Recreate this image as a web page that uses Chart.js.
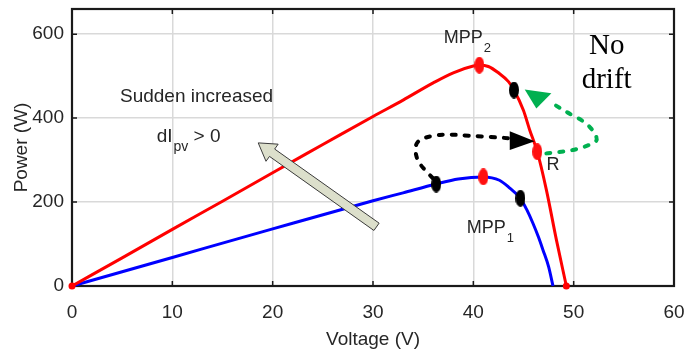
<!DOCTYPE html>
<html>
<head>
<meta charset="utf-8">
<script src="https://cdn.jsdelivr.net/npm/chart.js@4.4.1/dist/chart.umd.min.js"></script>
<style>
  html, body { margin: 0; padding: 0; background: #fff; }
  #wrap { width: 685px; height: 357px; }
</style>
</head>
<body>
<div id="wrap"><canvas id="pvChart"></canvas></div>
<script>
// axis ticks
const xTicks = [0, 10, 20, 30, 40, 50, 60];
const yTicks = [0, 200, 400, 600];

// P-V curve after the irradiance step (red)
const voltageHigh = [0, 5, 10, 15, 20, 25, 30, 33, 36, 38, 40, 40.6, 41.5, 42.5, 43.5, 44.05, 45, 45.6, 46.37, 47.28, 48.28, 49.27];
const powerHigh   = [0, 67, 135, 202, 270, 337, 404, 443, 484, 508, 524, 526, 523, 508, 487, 467, 418, 373, 320, 229, 110, 0];

// P-V curve before the step (blue)
const voltageLow = [0, 10, 20, 30, 33, 36.3, 38.5, 41, 42.6, 43.6, 44.69, 45.3, 45.95, 46.5, 46.94, 47.5, 47.94];
const powerLow   = [0, 68, 136, 203, 222, 243, 255, 260, 252, 234, 209, 183, 149, 116, 86, 46, 0];

// operating points
const mppVoltage = [40.6, 41, 46.37];
const mppPower   = [526, 260, 320];
const stepVoltage = [44.05, 36.3, 44.69];
const stepPower   = [467, 243, 209];
const endVoltage = [0, 49.27];
const endPower   = [0, 0];

// dashed path of the conventional P&O move (black) and the proposed one (green)
const driftPathV = [35.96, 34.46, 34.46, 36.65, 39.64, 43.63];
const driftPathP = [257, 300, 343, 360, 358, 352];
const driftHeadV = [46.12, 43.63, 43.63];
const driftHeadP = [345, 369, 324];
const backPathV = [47.28, 49.9, 51.89, 52.26, 51.26, 49.27, 47.61];
const backPathP = [316, 324, 340, 355, 387, 415, 439];
const backHeadV = [45.12, 46.28, 47.78];
const backHeadP = [468, 423, 459];

// block arrow: tail -> tip
const stepArrowV = [30.35, 18.56];
const stepArrowP = [141, 341];

const toXY = (xs, ys) => xs.map((x, i) => ({ x: x, y: ys[i] }));

const SANS = "'Liberation Sans', Arial, sans-serif";
const SERIF = "'Liberation Serif', 'Times New Roman', serif";
const TEXT = '#262626';

function ellipseMarker(color, w, h) {
    const c = document.createElement('canvas');
    c.width = w; c.height = h;
    const g = c.getContext('2d');
    g.fillStyle = color;
    g.beginPath();
    g.ellipse(w / 2, h / 2, w / 2, h / 2, 0, 0, Math.PI * 2);
    g.fill();
    return c;
}

// smooth curve through pixel points (catmull-rom)
function smoothPath(ctx, pts) {
    ctx.beginPath();
    ctx.moveTo(pts[0].x, pts[0].y);
    for (let i = 0; i < pts.length - 1; i++) {
        const p0 = pts[i - 1] || pts[i];
        const p1 = pts[i];
        const p2 = pts[i + 1];
        const p3 = pts[i + 2] || p2;
        ctx.bezierCurveTo(
            p1.x + (p2.x - p0.x) / 6, p1.y + (p2.y - p0.y) / 6,
            p2.x - (p3.x - p1.x) / 6, p2.y - (p3.y - p1.y) / 6,
            p2.x, p2.y);
    }
}

function textWithSub(ctx, x, y, main, sub, size, after) {
    ctx.font = size + 'px ' + SANS;
    ctx.fillText(main, x, y);
    let w = ctx.measureText(main).width;
    ctx.font = Math.round(size * 0.72) + 'px ' + SANS;
    ctx.fillText(sub, x + w + 1, y + 9);
    w += ctx.measureText(sub).width + 1;
    if (after) {
        ctx.font = size + 'px ' + SANS;
        ctx.fillText(after, x + w, y);
    }
}

const frameAndNotes = {
    id: 'frameAndNotes',
    beforeDatasetsDraw(chart) {
        const { ctx, chartArea: a, scales: { x, y } } = chart;
        ctx.save();
        ctx.strokeStyle = '#1a1a1a';
        ctx.lineWidth = 1.5;
        ctx.beginPath();
        xTicks.slice(1, -1).forEach(v => {
            const px = x.getPixelForValue(v);
            ctx.moveTo(px, a.bottom); ctx.lineTo(px, a.bottom - 5);
            ctx.moveTo(px, a.top); ctx.lineTo(px, a.top + 5);
        });
        yTicks.slice(1).forEach(v => {
            const py = y.getPixelForValue(v);
            ctx.moveTo(a.left, py); ctx.lineTo(a.left + 5, py);
            ctx.moveTo(a.right, py); ctx.lineTo(a.right - 5, py);
        });
        ctx.stroke();
        ctx.lineWidth = 2.2;
        ctx.strokeRect(a.left, a.top, a.right - a.left, a.bottom - a.top);
        ctx.restore();
    },
    afterDatasetsDraw(chart) {
        const { ctx, scales: { x, y } } = chart;
        const px = (xs, ys) => xs.map((v, i) => ({ x: x.getPixelForValue(v), y: y.getPixelForValue(ys[i]) }));
        ctx.save();

        // big arrow
        const [tail, tip] = px(stepArrowV, stepArrowP);
        const len = Math.hypot(tip.x - tail.x, tip.y - tail.y);
        const ux = (tip.x - tail.x) / len, uy = (tip.y - tail.y) / len;
        const nx = -uy, ny = ux;
        const sw = 4.5, hw = 10.5, hl = 17;
        const bx = tip.x - ux * hl, by = tip.y - uy * hl;
        ctx.beginPath();
        ctx.moveTo(tail.x + nx * sw, tail.y + ny * sw);
        ctx.lineTo(bx + nx * sw, by + ny * sw);
        ctx.lineTo(bx + nx * hw, by + ny * hw);
        ctx.lineTo(tip.x, tip.y);
        ctx.lineTo(bx - nx * hw, by - ny * hw);
        ctx.lineTo(bx - nx * sw, by - ny * sw);
        ctx.lineTo(tail.x - nx * sw, tail.y - ny * sw);
        ctx.closePath();
        ctx.fillStyle = '#dcdfcb';
        ctx.fill();
        ctx.strokeStyle = '#3a3a3a';
        ctx.lineWidth = 1;
        ctx.stroke();

        // dashed arrows
        ctx.lineCap = 'round';
        ctx.lineWidth = 4;
        ctx.setLineDash([4, 9]);
        ctx.strokeStyle = '#000';
        smoothPath(ctx, px(driftPathV, driftPathP));
        ctx.stroke();
        ctx.strokeStyle = '#00b050';
        smoothPath(ctx, px(backPathV, backPathP));
        ctx.stroke();
        ctx.setLineDash([]);

        const head = (pts, color) => {
            ctx.beginPath();
            ctx.moveTo(pts[0].x, pts[0].y);
            ctx.lineTo(pts[1].x, pts[1].y);
            ctx.lineTo(pts[2].x, pts[2].y);
            ctx.closePath();
            ctx.fillStyle = color;
            ctx.fill();
        };
        head(px(driftHeadV, driftHeadP), '#000');
        head(px(backHeadV, backHeadP), '#00b050');

        // labels
        ctx.fillStyle = TEXT;
        ctx.textBaseline = 'alphabetic';
        ctx.textAlign = 'left';
        ctx.font = '19px ' + SANS;
        ctx.fillText('Sudden increased', x.getPixelForValue(4.78), y.getPixelForValue(439));
        textWithSub(ctx, x.getPixelForValue(8.44), y.getPixelForValue(344), 'dI', 'pv', 19, ' > 0');
        textWithSub(ctx, x.getPixelForValue(37.05), y.getPixelForValue(579), 'MPP', '2', 18);
        textWithSub(ctx, x.getPixelForValue(39.34), y.getPixelForValue(126), 'MPP', '1', 18);
        ctx.font = '18px ' + SANS;
        ctx.fillText('R', x.getPixelForValue(47.28), y.getPixelForValue(276));

        ctx.fillStyle = '#000';
        ctx.textAlign = 'center';
        ctx.font = '29px ' + SERIF;
        ctx.fillText('No', x.getPixelForValue(53.29), y.getPixelForValue(552));
        ctx.fillText('drift', x.getPixelForValue(53.29), y.getPixelForValue(471));
        ctx.restore();
    }
};

const ctx = document.getElementById('pvChart').getContext('2d');

new Chart(ctx, {
    type: 'scatter',
    data: {
        datasets: [
            {
                label: 'end points',
                data: toXY(endVoltage, endPower),
                pointStyle: 'circle',
                pointRadius: 3.5,
                backgroundColor: '#ff0000',
                borderWidth: 0,
                showLine: false,
                clip: false
            },
            {
                label: 'MPP',
                data: toXY(mppVoltage, mppPower),
                pointStyle: ellipseMarker('#ff1010', 10, 17),
                showLine: false,
                clip: false
            },
            {
                label: 'steps',
                data: toXY(stepVoltage, stepPower),
                pointStyle: ellipseMarker('#000000', 10, 17),
                showLine: false,
                clip: false
            },
            {
                label: 'After step',
                data: toXY(voltageHigh, powerHigh),
                showLine: true,
                borderColor: '#ff0000',
                borderWidth: 3,
                pointRadius: 0,
                cubicInterpolationMode: 'monotone',
                clip: false
            },
            {
                label: 'Before step',
                data: toXY(voltageLow, powerLow),
                showLine: true,
                borderColor: '#0000ff',
                borderWidth: 3,
                pointRadius: 0,
                cubicInterpolationMode: 'monotone',
                clip: false
            }
        ]
    },
    options: {
        responsive: true,
        maintainAspectRatio: false,
        animation: false,
        events: [],
        layout: { padding: { top: 9, right: 11, left: 0, bottom: 0 } },
        plugins: {
            legend: { display: false },
            tooltip: { enabled: false }
        },
        scales: {
            x: {
                type: 'linear',
                min: 0,
                max: 60,
                afterBuildTicks: s => { s.ticks = xTicks.map(v => ({ value: v })); },
                afterFit: s => { s.height = 71; s.paddingLeft = 0; s.paddingRight = 0; },
                ticks: {
                    color: TEXT,
                    padding: 15,
                    font: { family: SANS, size: 19 }
                },
                grid: { color: '#d9d9d9', lineWidth: 1.5, drawTicks: false },
                border: { display: false },
                title: {
                    display: true,
                    text: 'Voltage (V)',
                    color: TEXT,
                    font: { family: SANS, size: 19 },
                    padding: { top: 0, bottom: 6 }
                }
            },
            y: {
                type: 'linear',
                min: 0,
                max: 660,
                afterBuildTicks: s => { s.ticks = yTicks.map(v => ({ value: v })); },
                afterFit: s => { s.width = 72; s.paddingTop = 0; s.paddingBottom = 0; },
                ticks: {
                    color: TEXT,
                    padding: 8,
                    font: { family: SANS, size: 19 }
                },
                grid: { color: '#d9d9d9', lineWidth: 1.5, drawTicks: false },
                border: { display: false },
                title: {
                    display: true,
                    text: 'Power (W)',
                    color: TEXT,
                    font: { family: SANS, size: 19 },
                    padding: { top: 10, bottom: 0 }
                }
            }
        }
    },
    plugins: [frameAndNotes]
});
</script>
</body>
</html>
